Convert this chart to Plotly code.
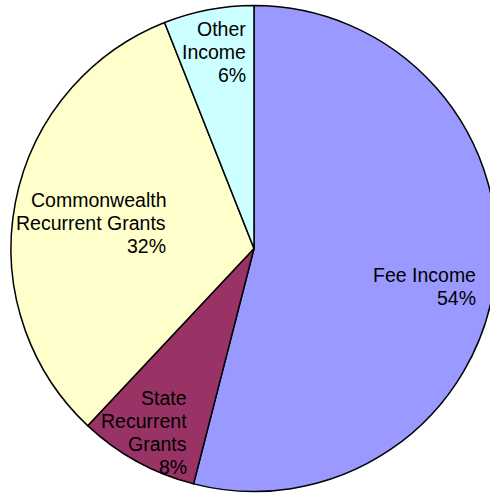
import plotly.graph_objects as go

labels = ["Fee Income", "State Recurrent Grants", "Commonwealth Recurrent Grants", "Other Income"]
values = [54, 8, 32, 6]
colors = ["#9999FF", "#993366", "#FFFFCC", "#CCFFFF"]
# label text lines as shown in the chart
label_lines = [["Fee Income"], ["State", "Recurrent", "Grants"],
               ["Commonwealth", "Recurrent Grants"], ["Other", "Income"]]

W, H = 510, 497
cx, cy, r = 254, 248.5, 243  # pixel center/radius (from top-left)

fig = go.Figure(go.Pie(
    labels=labels, values=values, sort=False, direction="clockwise", rotation=0,
    marker=dict(colors=colors, line=dict(color="black", width=1.5)),
    textinfo="none", hoverinfo="label+percent", showlegend=False,
    domain=dict(x=[(cx - r) / W, (cx + r) / W],
                y=[(H - cy - r) / H, (H - cy + r) / H]),
))

# right edge x and first-line middle y (pixels), line spacing
label_pos = [(478, 275), (189, 398), (168, 200), (248, 29)]
spacing = 23
for lines, v, (px, py) in zip(label_lines, values, label_pos):
    for i, t in enumerate(lines + [f"{v}%"]):
        fig.add_annotation(
            x=px / W, y=1 - (py + i * spacing) / H, xref="paper", yref="paper",
            xanchor="right", yanchor="middle", align="right", showarrow=False,
            text=t, font=dict(family="Arial, Liberation Sans, sans-serif", size=19.5, color="black"),
        )

fig.update_layout(width=W, height=H, margin=dict(l=0, r=0, t=0, b=0),
                  paper_bgcolor="white", plot_bgcolor="white")
fig.write_html("out.html", config={"displayModeBar": False},
               post_script="document.body.style.margin='0';document.body.style.overflow='hidden';")
